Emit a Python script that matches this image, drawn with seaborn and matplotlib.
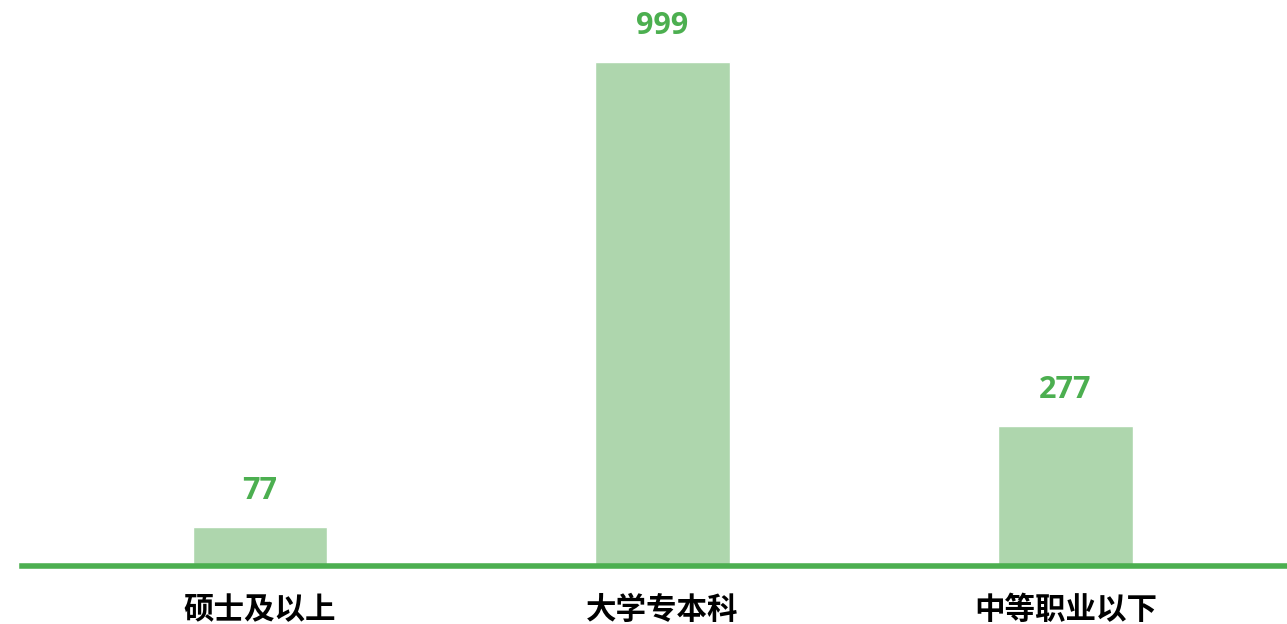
import matplotlib
matplotlib.use("Agg")
import matplotlib.pyplot as plt
import seaborn as sns
import pandas as pd

# Data
categories = ["硕士及以上", "大学专本科", "中等职业以下"]
counts = [77, 999, 277]

df = pd.DataFrame({"category": categories, "count": counts})

sns.set_style("white")
plt.rcParams["font.family"] = ["Noto Sans CJK SC", "DejaVu Sans"]

bar_color = "#aed6ad"
line_color = "#4caf50"

fig = plt.figure(figsize=(12.87, 6.24), dpi=100)
ax = fig.add_axes([0.0171, 0.093, 0.9829, 0.907])

sns.barplot(data=df, x="category", y="count", color=bar_color, width=0.333,
            saturation=1, ax=ax)

# Value labels above bars
for i, v in enumerate(counts):
    ax.annotate(str(v), (i, v), xytext=(0, 15), textcoords="offset points",
                ha="center", va="bottom", fontsize=22, fontweight="bold",
                color=line_color, family=["Open Sans", "DejaVu Sans"])

ax.set_xlim(-0.59, 2.55)
ax.set_ylim(0, 1122)
ax.set_xlabel("")
ax.set_ylabel("")
ax.set_yticks([])
ax.tick_params(axis="x", length=0, pad=20)
for lbl in ax.get_xticklabels():
    lbl.set_fontsize(22)
    lbl.set_fontweight("bold")
    lbl.set_color("black")

for side in ["top", "right", "left"]:
    ax.spines[side].set_visible(False)
ax.spines["bottom"].set_color(line_color)
ax.spines["bottom"].set_linewidth(4)

fig.savefig("out.png", dpi=100)
